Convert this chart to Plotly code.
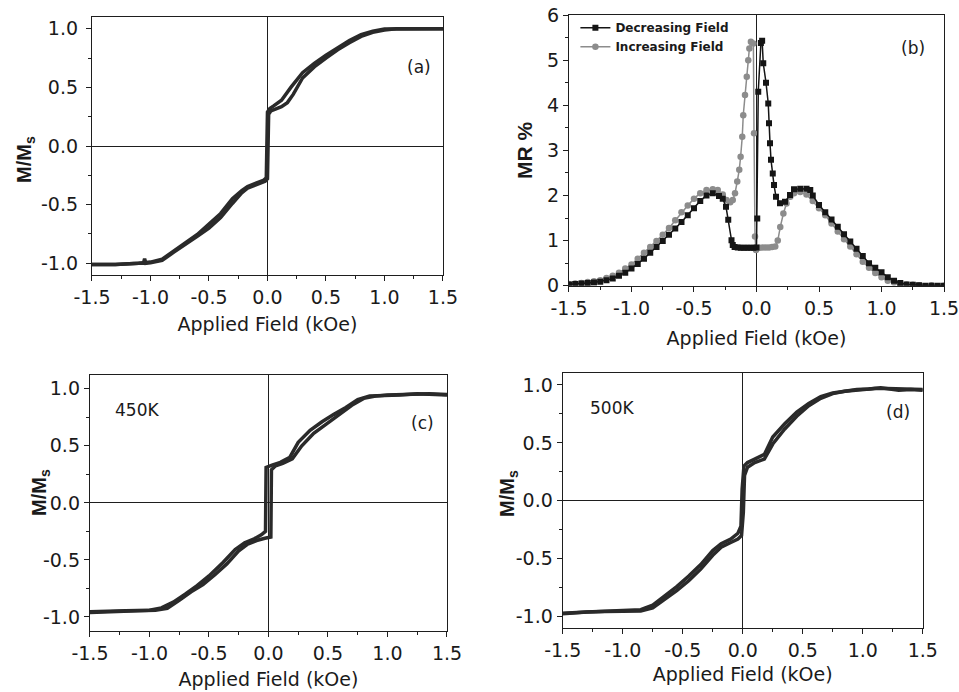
import plotly.graph_objects as go

# ---------------- Panel (a): M/Ms loop ----------------
H_a_dec = [1.5, 1.3, 1.1, 1.0, 0.9, 0.8, 0.7, 0.6, 0.5, 0.4, 0.3, 0.2, 0.15, 0.12, 0.05, 0.02, 0.0,
           -0.01, -0.03, -0.08, -0.12, -0.17, -0.22, -0.3, -0.4, -0.5, -0.6, -0.7, -0.8, -0.9, -1.0,
           -1.1, -1.3, -1.5]
M_a_dec = [1.0, 1.0, 1.0, 0.997, 0.98, 0.95, 0.9, 0.84, 0.775, 0.705, 0.625, 0.5, 0.43, 0.39, 0.34, 0.32, 0.29,
           -0.27, -0.29, -0.31, -0.325, -0.345, -0.38, -0.45, -0.575, -0.67, -0.755, -0.825, -0.895, -0.965, -0.99,
           -1.0, -1.01, -1.01]
H_a_inc = [-1.5, -1.3, -1.1, -1.06, -1.05, -1.04, -1.0, -0.9, -0.8, -0.7, -0.6, -0.5, -0.4, -0.3, -0.22, -0.17,
           -0.12, -0.05, -0.02, 0.0, 0.01, 0.03, 0.08, 0.12, 0.17, 0.22, 0.3, 0.4, 0.5, 0.6, 0.7, 0.8, 0.9, 1.0,
           1.1, 1.3, 1.5]
M_a_inc = [-1.01, -1.01, -1.0, -1.0, -0.96, -1.0, -0.995, -0.975, -0.905, -0.84, -0.77, -0.70, -0.61, -0.49, -0.40,
           -0.36, -0.34, -0.32, -0.30, -0.28, 0.27, 0.30, 0.32, 0.335, 0.37, 0.44, 0.58, 0.675, 0.75, 0.82, 0.88,
           0.935, 0.97, 0.99, 1.0, 1.0, 1.0]

# ---------------- Panel (b): MR % ----------------
H_b_dec = [1.5, 1.45, 1.4, 1.35, 1.3, 1.25, 1.2, 1.15, 1.1, 1.05, 1.0, 0.95, 0.9, 0.85, 0.8, 0.75, 0.7, 0.65,
           0.6, 0.55, 0.5, 0.45, 0.43, 0.40, 0.35, 0.30, 0.268, 0.228, 0.188, 0.156, 0.14, 0.13, 0.116, 0.108,
           0.1, 0.094, 0.076, 0.054, 0.045, 0.035, 0.014, 0.006, 0.0, -0.025, -0.05, -0.075, -0.1, -0.125,
           -0.15, -0.175, -0.19, -0.2, -0.226, -0.244, -0.27, -0.3, -0.35, -0.4, -0.45, -0.5, -0.55, -0.6,
           -0.65, -0.7, -0.75, -0.8, -0.85, -0.9, -0.95, -1.0, -1.05, -1.1, -1.15, -1.2, -1.25, -1.3, -1.35,
           -1.4, -1.45, -1.5]
MR_b_dec = [0.0, 0.0, 0.0, 0.0, 0.01, 0.02, 0.03, 0.06, 0.11, 0.19, 0.3, 0.4, 0.5, 0.66, 0.82, 0.98, 1.14, 1.31,
            1.47, 1.63, 1.79, 2.0, 2.12, 2.15, 2.15, 2.14, 2.01, 1.86, 1.83, 1.97, 2.23, 2.49, 2.79, 3.16,
            3.6, 4.04, 4.5, 4.93, 5.43, 5.38, 4.3, 1.49, 0.85, 0.84, 0.84, 0.84, 0.84, 0.84,
            0.85, 0.86, 0.9, 1.01, 1.46, 1.75, 1.93, 1.99, 2.05, 2.0, 1.88, 1.72, 1.56, 1.41,
            1.27, 1.13, 0.99, 0.86, 0.73, 0.6, 0.48, 0.38, 0.29, 0.22, 0.16, 0.12, 0.09, 0.07, 0.06,
            0.05, 0.04, 0.03]
H_b_inc = [-1.5, -1.45, -1.4, -1.35, -1.3, -1.25, -1.2, -1.15, -1.1, -1.05, -1.0, -0.95, -0.9, -0.85, -0.8,
           -0.75, -0.7, -0.65, -0.6, -0.55, -0.5, -0.45, -0.4, -0.35, -0.31, -0.27, -0.24, -0.21, -0.19,
           -0.172, -0.154, -0.138, -0.127, -0.114, -0.106, -0.092, -0.078, -0.066, -0.057, -0.045, -0.025,
           -0.02, -0.012, -0.004, 0.025, 0.05, 0.075, 0.1, 0.125, 0.15, 0.17, 0.19, 0.215, 0.24, 0.27, 0.3,
           0.35, 0.4, 0.45, 0.5, 0.55, 0.6, 0.65, 0.7, 0.75, 0.8, 0.85, 0.9, 0.95, 1.0, 1.05, 1.1, 1.15, 1.2,
           1.25, 1.3, 1.4, 1.5]
MR_b_inc = [0.04, 0.05, 0.06, 0.08, 0.1, 0.12, 0.17, 0.22, 0.29, 0.38, 0.47, 0.6, 0.73, 0.86, 0.99,
            1.13, 1.28, 1.45, 1.63, 1.78, 1.93, 2.05, 2.12, 2.14, 2.12, 2.02, 1.9, 1.85, 1.9,
            2.05, 2.31, 2.57, 2.86, 3.3, 3.78, 4.23, 4.63, 5.0, 5.26, 5.41, 5.37,
            3.38, 1.09, 0.79, 0.84, 0.85, 0.85, 0.85, 0.86, 0.87, 1.0, 1.3, 1.6, 1.82, 1.97, 2.05,
            2.08, 2.02, 1.88, 1.72, 1.56, 1.38, 1.2, 1.03, 0.87, 0.7, 0.53, 0.4, 0.28, 0.19, 0.11, 0.07, 0.04, 0.03,
            0.02, 0.01, 0.01, 0.0]

# ---------------- Panel (c): 450K ----------------
H_c_dec = [1.5, 1.4, 1.25, 1.1, 0.95, 0.85, 0.75, 0.65, 0.55, 0.45, 0.35, 0.25, 0.18, 0.1, 0.03, -0.02,
           -0.025, -0.06, -0.12, -0.2, -0.28, -0.38, -0.5, -0.6, -0.7, -0.8, -0.9, -1.0, -1.2, -1.35, -1.5]
M_c_dec = [0.945, 0.95, 0.955, 0.945, 0.94, 0.935, 0.905, 0.835, 0.775, 0.71, 0.635, 0.53, 0.40, 0.355, 0.33, 0.31,
           -0.25, -0.28, -0.315, -0.35, -0.41, -0.52, -0.64, -0.725, -0.8, -0.87, -0.92, -0.94, -0.945, -0.95, -0.955]
H_c_inc = [-1.5, -1.4, -1.25, -1.1, -0.95, -0.85, -0.75, -0.65, -0.55, -0.45, -0.35, -0.25, -0.18, -0.1, -0.03,
           0.02, 0.025, 0.06, 0.12, 0.2, 0.28, 0.38, 0.5, 0.6, 0.7, 0.8, 0.9, 1.0, 1.2, 1.35, 1.5]
M_c_inc = [-0.96, -0.955, -0.945, -0.945, -0.94, -0.925, -0.855, -0.78, -0.715, -0.63, -0.535, -0.42, -0.365, -0.33,
           -0.31, -0.30, 0.29, 0.325, 0.345, 0.385, 0.50, 0.61, 0.70, 0.775, 0.855, 0.915, 0.935, 0.945, 0.95, 0.955, 0.95]

# ---------------- Panel (d): 500K ----------------
H_d_dec = [1.5, 1.4, 1.3, 1.15, 1.05, 0.95, 0.85, 0.75, 0.65, 0.55, 0.45, 0.35, 0.25, 0.18, 0.1, 0.04, 0.01,
           -0.005, -0.015, -0.04, -0.1, -0.18, -0.25, -0.35, -0.45, -0.55, -0.65, -0.75, -0.85, -1.0, -1.15,
           -1.3, -1.5]
M_d_dec = [0.955, 0.96, 0.955, 0.975, 0.965, 0.96, 0.945, 0.93, 0.9, 0.84, 0.765, 0.665, 0.55, 0.40, 0.36, 0.33, 0.30,
           0.1, -0.22, -0.28, -0.33, -0.37, -0.43, -0.55, -0.65, -0.74, -0.82, -0.9, -0.94, -0.945, -0.95,
           -0.96, -0.97]
H_d_inc = [-1.5, -1.4, -1.3, -1.15, -1.0, -0.85, -0.75, -0.65, -0.55, -0.45, -0.35, -0.25, -0.18, -0.1, -0.04,
           -0.01, 0.005, 0.015, 0.04, 0.1, 0.18, 0.25, 0.35, 0.45, 0.55, 0.65, 0.75, 0.85, 1.0, 1.1, 1.2, 1.35, 1.5]
M_d_inc = [-0.975, -0.965, -0.96, -0.955, -0.95, -0.95, -0.925, -0.85, -0.775, -0.69, -0.59, -0.47, -0.40, -0.36,
           -0.33, -0.30, -0.1, 0.22, 0.29, 0.33, 0.36, 0.49, 0.62, 0.73, 0.82, 0.885, 0.925, 0.945, 0.96, 0.97, 0.97,
           0.965, 0.96]

# ---------------- Tick labels ----------------
x_tick_vals = [-1.5, -1.0, -0.5, 0.0, 0.5, 1.0, 1.5]
x_tick_text = ["-1.5", "-1.0", "-0.5", "0.0", "0.5", "1.0", "1.5"]
m_tick_vals = [-1.0, -0.5, 0.0, 0.5, 1.0]
m_tick_text = ["-1.0", "-0.5", "0.0", "0.5", "1.0"]
mr_tick_vals = [0, 1, 2, 3, 4, 5, 6]
mr_tick_text = ["0", "1", "2", "3", "4", "5", "6"]

CURVE = "#2a2a2a"
LC = "#1e1e1e"
TC = "#1a1a1a"
DARK = "#151515"
GRAY = "#8c8c8c"
TICKFONT = dict(family="DejaVu Sans", size=19, color=TC)
XTITLEFONT = dict(family="DejaVu Sans", size=19, color=TC)
YTITLEFONT = dict(family="Liberation Sans", size=20, color=TC)

fig = go.Figure()


def loop(x, y, xa, ya):
    fig.add_trace(go.Scatter(x=x, y=y, mode="lines", line=dict(color=CURVE, width=3.5),
                             xaxis=xa, yaxis=ya, showlegend=False, hoverinfo="skip"))


loop(H_a_dec, M_a_dec, "x", "y")
loop(H_a_inc, M_a_inc, "x", "y")
loop(H_c_dec, M_c_dec, "x3", "y3")
loop(H_c_inc, M_c_inc, "x3", "y3")
loop(H_d_dec, M_d_dec, "x4", "y4")
loop(H_d_inc, M_d_inc, "x4", "y4")

fig.add_trace(go.Scatter(x=H_b_inc, y=MR_b_inc, mode="lines+markers", name="Increasing Field",
                         line=dict(color=GRAY, width=1.5),
                         marker=dict(symbol="circle", size=6.5, color=GRAY),
                         xaxis="x2", yaxis="y2"))
fig.add_trace(go.Scatter(x=H_b_dec, y=MR_b_dec, mode="lines+markers", name="Decreasing Field",
                         line=dict(color=DARK, width=1.5),
                         marker=dict(symbol="square", size=6, color=DARK),
                         xaxis="x2", yaxis="y2"))


def axis(domain, rng, vals, text, minor_tick0, minor_dtick, anchor, zeroline, title, tfont, standoff, lblstand):
    d = dict(domain=domain, range=rng, anchor=anchor, automargin=False,
             showline=True, linecolor=LC, linewidth=1.3,
             mirror=True, ticks="outside", ticklen=5, tickwidth=1.2, tickcolor=LC,
             tickmode="array", tickvals=vals, ticktext=text, tickfont=TICKFONT,
             ticklabelstandoff=lblstand, ticklabeloverflow="allow",
             minor=dict(tickmode="linear", tick0=minor_tick0, dtick=minor_dtick, ticks="outside",
                        ticklen=3, tickwidth=1.1, tickcolor=LC, showgrid=False),
             showgrid=False, zeroline=zeroline, zerolinecolor=LC, zerolinewidth=1.1, fixedrange=True)
    if title:
        d["title"] = dict(text=title, font=tfont, standoff=standoff)
    return d


XT = "Applied Field (kOe)"
MT = "<b>M/M<sub>s</sub></b>"

layout = dict(
    template="none",
    width=959, height=692, margin=dict(l=0, r=0, t=0, b=0, pad=0),
    paper_bgcolor="white", plot_bgcolor="white",
    xaxis=axis([0.0959, 0.4619], [-1.5, 1.5], x_tick_vals, x_tick_text, -1.5, 0.25, "y", True, XT, XTITLEFONT, 10, 0),
    yaxis=axis([0.6026, 0.9754], [-1.1, 1.1], m_tick_vals, m_tick_text, -1.0, 0.25, "x", True, None, YTITLEFONT, 0, 4),
    xaxis2=axis([0.5933, 0.9844], [-1.5, 1.5], x_tick_vals, x_tick_text, -1.5, 0.25, "y2", True, XT, XTITLEFONT, 14, 0),
    yaxis2=axis([0.5871, 0.9783], [0, 6], mr_tick_vals, mr_tick_text, 0, 0.5, "x2", False, "<b>MR %</b>",
                dict(family="Liberation Sans", size=21, color=TC), 8, 0),
    xaxis3=axis([0.0938, 0.4661], [-1.5, 1.5], x_tick_vals, x_tick_text, -1.5, 0.25, "y3", True, XT, XTITLEFONT, 10, 0),
    yaxis3=axis([0.0886, 0.4581], [-1.12, 1.12], m_tick_vals, m_tick_text, -1.0, 0.25, "x3", True, None, YTITLEFONT, 0, 0),
    xaxis4=axis([0.5868, 0.9622], [-1.5, 1.5], x_tick_vals, x_tick_text, -1.5, 0.25, "y4", True, XT, XTITLEFONT, 7, 0),
    yaxis4=axis([0.0921, 0.4605], [-1.1, 1.1], m_tick_vals, m_tick_text, -1.0, 0.25, "x4", True, None, YTITLEFONT, 0, 0),
    legend=dict(x=0.600, y=0.981, xanchor="left", yanchor="top", bgcolor="rgba(0,0,0,0)",
                traceorder="reversed", font=dict(family="DejaVu Sans", size=12, color=TC, weight="bold"),
                tracegroupgap=0, itemwidth=30),
    showlegend=True,
)
fig.update_layout(**layout)

# y-axis titles of the M/Ms panels (placed in figure pixels -> paper fractions)
W, Hh = 959.0, 692.0
ytitles = [(25, 160), (40, 493), (509, 494)]
for px, py in ytitles:
    fig.add_annotation(text=MT, x=px / W, y=1 - py / Hh, xref="paper", yref="paper",
                       showarrow=False, textangle=-90, font=YTITLEFONT, xanchor="center", yanchor="middle")

LABELFONT = dict(family="DejaVu Sans", size=17, color=TC)
notes = [
    ("(a)", 1.295, 0.67, "x", "y"),
    ("(b)", 1.25, 5.27, "x2", "y2"),
    ("(c)", 1.298, 0.70, "x3", "y3"),
    ("450K", -1.105, 0.81, "x3", "y3"),
    ("(d)", 1.294, 0.767, "x4", "y4"),
    ("500K", -1.09, 0.80, "x4", "y4"),
]
for txt, x, y, xr, yr in notes:
    fig.add_annotation(text=txt, x=x, y=y, xref=xr, yref=yr, showarrow=False, font=LABELFONT)

fig.write_html("out.html", config={"displayModeBar": False},
               post_script="document.body.style.margin='0px';")
